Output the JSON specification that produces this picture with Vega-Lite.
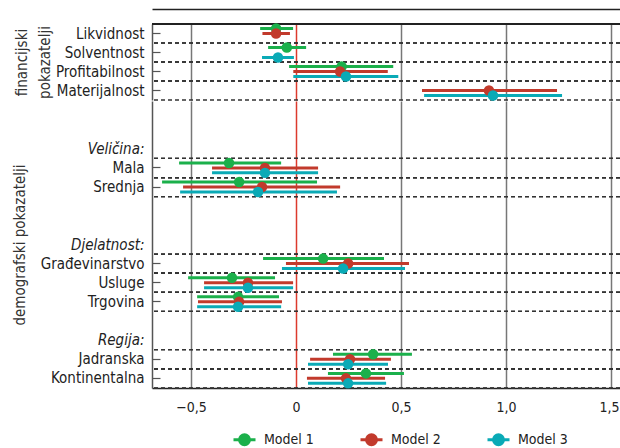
{
  "$schema": "https://vega.github.io/schema/vega-lite/v6.json",
  "padding": {"left": 12, "top": 9, "right": 0, "bottom": 0},
  "config": {
    "font": "Liberation Sans Narrow, DejaVu Sans Condensed, sans-serif",
    "view": {"stroke": null},
    "axis": {
      "labelFont": "Liberation Sans Narrow, DejaVu Sans Condensed, sans-serif",
      "titleFont": "Liberation Sans Narrow, DejaVu Sans Condensed, sans-serif",
      "labelFontSize": 15, "labelColor": "#222",
      "titleFontSize": 15, "titleFontWeight": "normal", "titleColor": "#333"
    },
    "legend": {
      "labelFont": "Liberation Sans Narrow, DejaVu Sans Condensed, sans-serif"
    }
  },
  "datasets": {
    "coef": [
      {"group": "fin", "row": "Likvidnost", "model": "Model 1", "est": -0.095, "lo": -0.171, "hi": -0.014},
      {"group": "fin", "row": "Likvidnost", "model": "Model 2", "est": -0.095, "lo": -0.16, "hi": -0.029},
      {"group": "fin", "row": "Solventnost", "model": "Model 1", "est": -0.044, "lo": -0.133, "hi": 0.048},
      {"group": "fin", "row": "Solventnost", "model": "Model 3", "est": -0.086, "lo": -0.162, "hi": -0.01},
      {"group": "fin", "row": "Profitabilnost", "model": "Model 1", "est": 0.217, "lo": -0.033, "hi": 0.463},
      {"group": "fin", "row": "Profitabilnost", "model": "Model 2", "est": 0.21, "lo": -0.013, "hi": 0.437},
      {"group": "fin", "row": "Profitabilnost", "model": "Model 3", "est": 0.238, "lo": -0.013, "hi": 0.487},
      {"group": "fin", "row": "Materijalnost", "model": "Model 2", "est": 0.919, "lo": 0.6, "hi": 1.243},
      {"group": "fin", "row": "Materijalnost", "model": "Model 3", "est": 0.938, "lo": 0.61, "hi": 1.267},
      {"group": "dem", "row": "Mala", "model": "Model 1", "est": -0.319, "lo": -0.557, "hi": -0.071},
      {"group": "dem", "row": "Mala", "model": "Model 2", "est": -0.148, "lo": -0.4, "hi": 0.105},
      {"group": "dem", "row": "Mala", "model": "Model 3", "est": -0.148, "lo": -0.4, "hi": 0.105},
      {"group": "dem", "row": "Srednja", "model": "Model 1", "est": -0.271, "lo": -0.638, "hi": 0.1},
      {"group": "dem", "row": "Srednja", "model": "Model 2", "est": -0.162, "lo": -0.538, "hi": 0.21},
      {"group": "dem", "row": "Srednja", "model": "Model 3", "est": -0.181, "lo": -0.552, "hi": 0.195},
      {"group": "dem", "row": "Građevinarstvo", "model": "Model 1", "est": 0.129, "lo": -0.157, "hi": 0.419},
      {"group": "dem", "row": "Građevinarstvo", "model": "Model 2", "est": 0.248, "lo": -0.048, "hi": 0.538},
      {"group": "dem", "row": "Građevinarstvo", "model": "Model 3", "est": 0.224, "lo": -0.067, "hi": 0.519},
      {"group": "dem", "row": "Usluge", "model": "Model 1", "est": -0.305, "lo": -0.514, "hi": -0.1},
      {"group": "dem", "row": "Usluge", "model": "Model 2", "est": -0.229, "lo": -0.438, "hi": -0.014},
      {"group": "dem", "row": "Usluge", "model": "Model 3", "est": -0.229, "lo": -0.438, "hi": -0.014},
      {"group": "dem", "row": "Trgovina", "model": "Model 1", "est": -0.276, "lo": -0.471, "hi": -0.081},
      {"group": "dem", "row": "Trgovina", "model": "Model 2", "est": -0.271, "lo": -0.467, "hi": -0.067},
      {"group": "dem", "row": "Trgovina", "model": "Model 3", "est": -0.276, "lo": -0.471, "hi": -0.071},
      {"group": "dem", "row": "Jadranska", "model": "Model 1", "est": 0.367, "lo": 0.176, "hi": 0.552},
      {"group": "dem", "row": "Jadranska", "model": "Model 2", "est": 0.257, "lo": 0.067, "hi": 0.452},
      {"group": "dem", "row": "Jadranska", "model": "Model 3", "est": 0.248, "lo": 0.057, "hi": 0.438},
      {"group": "dem", "row": "Kontinentalna", "model": "Model 1", "est": 0.333, "lo": 0.152, "hi": 0.514},
      {"group": "dem", "row": "Kontinentalna", "model": "Model 2", "est": 0.238, "lo": 0.052, "hi": 0.424},
      {"group": "dem", "row": "Kontinentalna", "model": "Model 3", "est": 0.248, "lo": 0.057, "hi": 0.429}
    ]
  },
  "spacing": 0,
  "resolve": {"scale": {"y": "independent", "x": "shared", "color": "shared"}},
  "vconcat": [
    {
      "width": 468,
      "height": 76,
      "data": {"name": "coef"},
      "transform": [{"filter": "datum.group === 'fin'"}],
      "layer": [
        {
          "mark": {"type": "rule", "strokeDash": [4, 3], "color": "#333", "strokeWidth": 1.2},
          "encoding": {
            "y": {"field": "row", "type": "nominal", "bandPosition": 0,
              "scale": {"type": "band", "domain": ["Likvidnost", "Solventnost", "Profitabilnost", "Materijalnost"], "paddingInner": 0, "paddingOuter": 0},
              "axis": {
                "title": ["financijski", "pokazatelji"], "titleLineHeight": 23, "titlePadding": 3,
                "domainColor": "#555", "domainWidth": 1.5,
                "tickSize": -8, "tickColor": "#555", "tickWidth": 1.2, "labelPadding": 16,
                "grid": false
              }
            }
          }
        },
        {
          "mark": {"type": "rule", "strokeDash": [4, 3], "color": "#333", "strokeWidth": 1.2},
          "encoding": {
            "y": {"field": "row", "type": "nominal", "bandPosition": 1}
          }
        },
        {
          "mark": {"type": "rule", "color": "#222", "strokeWidth": 1.5},
          "encoding": {
            "y": {"datum": "Likvidnost", "type": "nominal", "bandPosition": 0}
          }
        },
        {
          "mark": {"type": "rule", "strokeWidth": 3},
          "encoding": {
            "y": {"field": "row", "type": "nominal"},
            "yOffset": {"field": "model", "type": "nominal", "scale": {"type": "point", "domain": ["Model 1", "Model 2", "Model 3"], "padding": 0.91}},
            "x": {"field": "lo", "type": "quantitative",
              "scale": {"domain": [-0.686, 1.543], "nice": false, "zero": false},
              "axis": {"orient": "top", "offset": 15, "title": null, "labels": false, "ticks": false, "domain": true, "domainColor": "#222", "domainWidth": 1.5,
                "grid": true, "values": [-0.5, 0, 0.5, 1, 1.5],
                "gridColor": {"condition": {"test": "datum.value === 0", "value": "#dc3a2d"}, "value": "#777"},
                "gridWidth": 1.5}},
            "x2": {"field": "hi"},
            "color": {"field": "model", "type": "nominal",
              "scale": {"domain": ["Model 1", "Model 2", "Model 3"], "range": ["#1bb04b", "#c23a2c", "#0aaab6"]}}
          }
        },
        {
          "mark": {"type": "circle", "size": 110, "opacity": 1},
          "encoding": {
            "y": {"field": "row", "type": "nominal"},
            "yOffset": {"field": "model", "type": "nominal"},
            "x": {"field": "est", "type": "quantitative"},
            "color": {"field": "model", "type": "nominal"}
          }
        }
      ]
    },
    {
      "width": 468,
      "height": 287,
      "data": {"name": "coef"},
      "transform": [{"filter": "datum.group === 'dem'"}],
      "layer": [
        {
          "mark": {"type": "rule", "strokeDash": [4, 3], "color": "#333", "strokeWidth": 1.2},
          "encoding": {
            "y": {"field": "row", "type": "nominal", "bandPosition": 0,
              "scale": {"type": "band", "domain": ["_1", "_2", "Veličina:", "Mala", "Srednja", "_3", "_4", "Djelatnost:", "Građevinarstvo", "Usluge", "Trgovina", "_5", "Regija:", "Jadranska", "Kontinentalna"], "paddingInner": 0, "paddingOuter": 0},
              "axis": {
                "title": "demografski pokazatelji", "titlePadding": 13,
                "domainColor": "#555", "domainWidth": 1.5,
                "tickSize": -8, "tickColor": "#555", "tickWidth": 1.2, "labelPadding": 16,
                "grid": false,
                "labelExpr": "indexof(datum.value, '_') == 0 ? '' : datum.value",
                "labelFontStyle": {"condition": {"test": "indexof(datum.value, ':') > 0", "value": "italic"}, "value": "normal"},
                "tickOpacity": {"condition": {"test": "indexof(datum.value, ':') > 0 || indexof(datum.value, '_') == 0", "value": 0}, "value": 1},
                "encode": {"labels": {"update": {"dy": {"signal": "indexof(['Veličina:', 'Mala', 'Srednja'], datum.value) >= 0 ? -5 : (indexof(['Djelatnost:', 'Građevinarstvo', 'Usluge', 'Trgovina'], datum.value) >= 0 ? -11 : 0)"}}}}
              }
            }
          }
        },
        {
          "mark": {"type": "rule", "strokeDash": [4, 3], "color": "#333", "strokeWidth": 1.2},
          "encoding": {
            "y": {"field": "row", "type": "nominal", "bandPosition": 1}
          }
        },
        {
          "mark": {"type": "rule", "strokeWidth": 3},
          "encoding": {
            "y": {"field": "row", "type": "nominal"},
            "yOffset": {"field": "model", "type": "nominal"},
            "x": {"field": "lo", "type": "quantitative",
              "axis": {"orient": "bottom", "title": null, "ticks": false, "domain": true, "domainColor": "#222", "domainWidth": 1.5,
                "labelPadding": 12, "labelFontSize": 14, "grid": true, "values": [-0.5, 0, 0.5, 1, 1.5],
                "labelFlush": 10, "labelFlushOffset": 8,
                "labelExpr": "datum.value == 0 ? '0' : replace(format(datum.value, '.1f'), '.', ',')",
                "gridColor": {"condition": {"test": "datum.value === 0", "value": "#dc3a2d"}, "value": "#777"},
                "gridWidth": 1.5}},
            "x2": {"field": "hi"},
            "color": {"field": "model", "type": "nominal"}
          }
        },
        {
          "mark": {"type": "circle", "size": 110, "opacity": 1},
          "encoding": {
            "y": {"field": "row", "type": "nominal"},
            "yOffset": {"field": "model", "type": "nominal"},
            "x": {"field": "est", "type": "quantitative"},
            "color": {"field": "model", "type": "nominal",
              "legend": {
                "orient": "none", "legendX": 81, "legendY": 404, "direction": "horizontal", "title": null,
                "symbolType": "M-1.1,0L1.1,0M-0.5,0A0.5,0.5,0,1,1,0.5,0A0.5,0.5,0,1,1,-0.5,0Z",
                "symbolSize": 400, "symbolStrokeWidth": 3, "labelFontSize": 14, "labelColor": "#222",
                "columnPadding": 40, "labelOffset": 8,
                "encode": {"symbols": {"update": {"stroke": {"scale": "color", "field": "value"}, "fill": {"scale": "color", "field": "value"}, "opacity": {"value": 1}}}}
              }
            }
          }
        }
      ]
    }
  ]
}
